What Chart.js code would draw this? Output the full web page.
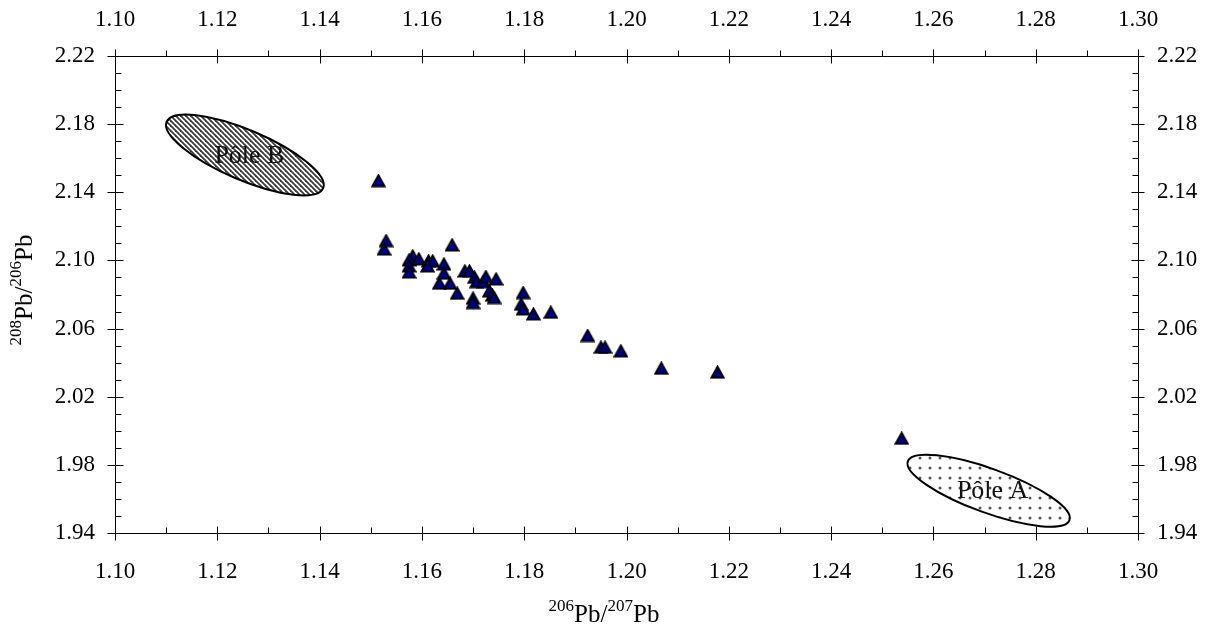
<!DOCTYPE html>
<html>
<head>
<meta charset="utf-8">
<script src="https://cdn.jsdelivr.net/npm/chart.js@4.4.1/dist/chart.umd.min.js"></script>
<style>
html,body{margin:0;padding:0;background:#fff;}
#c{display:block;}
</style>
</head>
<body>
<canvas id="c" width="1212" height="628"></canvas>
<script>
// 206Pb/207Pb values
const xValues = [1.1515,1.1530,1.1526,1.1659,1.1582,1.1575,1.1594,1.1575,1.1575,1.1613,
  1.1621,1.1611,1.1643,1.1643,1.1634,1.1655,1.1669,1.1684,1.1693,1.1703,
  1.1707,1.1720,1.1725,1.1745,1.1732,1.1738,1.1741,1.1700,1.1700,1.1798,
  1.1794,1.1798,1.1818,1.1852,1.1924,1.1950,1.1958,1.1989,1.2068,1.2178,1.2538];
// 208Pb/206Pb values
const yValues = [2.1468,2.1116,2.1067,2.1091,2.1026,2.1003,2.1009,2.0968,2.0932,2.0997,
  2.0997,2.0968,2.0979,2.0925,2.0866,2.0866,2.0807,2.0938,2.0938,2.0901,
  2.0875,2.0875,2.0905,2.0891,2.0821,2.0797,2.0782,2.0778,2.0752,2.0811,
  2.0743,2.0715,2.0686,2.0696,2.0559,2.0490,2.0490,2.0469,2.0367,2.0344,1.9956];

const xTickLabels = ['1.10','1.12','1.14','1.16','1.18','1.20','1.22','1.24','1.26','1.28','1.30'];
const yTickLabels = ['1.94','1.98','2.02','2.06','2.10','2.14','2.18','2.22'];

// End-member fields
const poleNames = ['Pôle B','Pôle A'];
const poleCenterX = [1.1254, 1.2708];
const poleCenterY = [2.1619, 1.9648];

const FONT = '"Liberation Serif", "Times New Roman", serif';

// marker image: triangle centred on its bounding box
const tri = document.createElement('canvas');
tri.width = 15; tri.height = 14;
(function(){
  const g = tri.getContext('2d');
  g.beginPath();
  g.moveTo(7.5, 1.2); g.lineTo(13.8, 12.6); g.lineTo(1.2, 12.6); g.closePath();
  g.fillStyle = '#000080'; g.fill();
  g.lineWidth = 1.6; g.strokeStyle = '#000'; g.lineJoin = 'miter'; g.stroke();
})();

function stripePattern(ctx){
  const t = document.createElement('canvas');
  t.width = 5; t.height = 5;
  const g = t.getContext('2d');
  g.fillStyle = '#fff'; g.fillRect(0,0,5,5);
  g.strokeStyle = '#3a3a3a'; g.lineWidth = 1.8;
  for (let k=-5;k<=5;k+=5){ g.beginPath(); g.moveTo(k-1,-1); g.lineTo(k+6,6); g.stroke(); }
  return ctx.createPattern(t,'repeat');
}
function dotPattern(ctx){
  const t = document.createElement('canvas');
  t.width = 10; t.height = 10;
  const g = t.getContext('2d');
  g.fillStyle = '#fff'; g.fillRect(0,0,10,10);
  g.fillStyle = '#555';
  g.beginPath(); g.arc(5,5,1.5,0,Math.PI*2); g.fill();
  const p = ctx.createPattern(t,'repeat');
  try { p.setTransform(new DOMMatrix().translate(5,3)); } catch(e){}
  return p;
}

const ellipseStyle = [
  {rx: 85, ry: 25, rot: 23*Math.PI/180, fill: 'stripe', lx: 4.5, ly: 1},
  {rx: 86, ry: 22, rot: 20*Math.PI/180, fill: 'dot', lx: 4, ly: 0}
];

const decorPlugin = {
  id: 'decor',
  beforeDatasetsDraw(chart){
    const ctx = chart.ctx;
    const xs = chart.scales.x, ys = chart.scales.y;
    for (let i=0;i<poleNames.length;i++){
      const st = ellipseStyle[i];
      const cx = xs.getPixelForValue(poleCenterX[i]);
      const cy = ys.getPixelForValue(poleCenterY[i]);
      ctx.save();
      ctx.beginPath();
      ctx.ellipse(cx, cy, st.rx, st.ry, st.rot, 0, Math.PI*2);
      ctx.fillStyle = st.fill === 'stripe' ? stripePattern(ctx) : dotPattern(ctx);
      ctx.fill();
      ctx.lineWidth = 2; ctx.strokeStyle = '#000'; ctx.stroke();
      ctx.fillStyle = '#111';
      ctx.font = '26px ' + FONT;
      ctx.textAlign = 'center'; ctx.textBaseline = 'middle';
      ctx.fillText(poleNames[i], cx + st.lx, cy + st.ly);
      ctx.restore();
    }
  },
  afterDraw(chart){
    const ctx = chart.ctx;
    const a = chart.chartArea;
    const xs = chart.scales.x, ys = chart.scales.y;
    const L = Math.round(a.left)+0.5, R = Math.round(a.right)+0.5;
    const T = Math.round(a.top)+0.5, B = Math.round(a.bottom)+0.5;
    ctx.save();
    ctx.strokeStyle = '#000'; ctx.lineWidth = 1;
    ctx.beginPath();
    ctx.rect(L, T, R-L, B-T);
    // x ticks (every 0.01, major every 0.02)
    for (let k=0;k<=20;k++){
      const v = 1.10 + k*0.01;
      const px = Math.round(xs.getPixelForValue(v))+0.5;
      if (k%2===0){
        ctx.moveTo(px, B-7); ctx.lineTo(px, B+7);
        ctx.moveTo(px, T-7); ctx.lineTo(px, T+7);
      } else {
        ctx.moveTo(px, B-6); ctx.lineTo(px, B);
        ctx.moveTo(px, T-6); ctx.lineTo(px, T);
      }
    }
    // y ticks (every 0.01, major every 0.04)
    for (let k=0;k<=28;k++){
      const v = 1.94 + k*0.01;
      const py = Math.round(ys.getPixelForValue(v))+0.5;
      if (k%4===0){
        ctx.moveTo(L-8, py); ctx.lineTo(L+8, py);
        ctx.moveTo(R-7, py); ctx.lineTo(R+6, py);
      } else {
        ctx.moveTo(L, py); ctx.lineTo(L+6, py);
        ctx.moveTo(R-6, py); ctx.lineTo(R, py);
      }
    }
    ctx.stroke();

    // axis titles with superscripts
    function drawIso(parts, x, y){
      let w = 0;
      for (const [t,s] of parts){ ctx.font = (s?'17px ':'25px ')+FONT; w += ctx.measureText(t).width; }
      let cx = x - w/2;
      ctx.textAlign = 'left'; ctx.textBaseline = 'alphabetic';
      for (const [t,s] of parts){
        ctx.font = (s?'17px ':'25px ')+FONT;
        ctx.fillText(t, cx, s ? y-11 : y);
        cx += ctx.measureText(t).width;
      }
    }
    ctx.fillStyle = '#000';
    drawIso([['206',1],['Pb/',0],['207',1],['Pb',0]], 604, 622);
    ctx.save();
    ctx.translate(32, 290);
    ctx.rotate(-Math.PI/2);
    drawIso([['208',1],['Pb/',0],['206',1],['Pb',0]], 0, 0);
    ctx.restore();
    ctx.restore();
  }
};

function tickCfg(labels, step, pad){
  return {
    stepSize: step,
    autoSkip: false,
    maxRotation: 0,
    padding: pad,
    color: '#000',
    font: {family: FONT, size: 23},
    callback: (v) => {
      const s = Number(v).toFixed(2);
      return labels.includes(s) ? s : '';
    }
  };
}
const noGrid = {display: false, drawTicks: false, drawOnChartArea: false};

new Chart(document.getElementById('c'), {
  type: 'scatter',
  data: {
    datasets: [{
      data: xValues.map((x,i)=>({x, y: yValues[i]})),
      pointStyle: tri,
      pointRadius: 7,
      pointHoverRadius: 7,
      xAxisID: 'x', yAxisID: 'y'
    }]
  },
  options: {
    responsive: false,
    animation: false,
    events: [],
    layout: {padding: 0},
    plugins: {legend: {display: false}, tooltip: {enabled: false}},
    scales: {
      x: {type: 'linear', position: 'bottom', min: 1.10, max: 1.30,
          ticks: tickCfg(xTickLabels, 0.02, 25), grid: noGrid, border: {display: false},
          afterFit: s => { s.height = 95; }},
      x2: {type: 'linear', position: 'top', min: 1.10, max: 1.30,
          ticks: tickCfg(xTickLabels, 0.02, 22), grid: noGrid, border: {display: false},
          afterFit: s => { s.height = 56; }},
      y: {type: 'linear', position: 'left', min: 1.94, max: 2.22,
          ticks: tickCfg(yTickLabels, 0.04, 20), grid: noGrid, border: {display: false},
          afterFit: s => { s.width = 115; }},
      y2: {type: 'linear', position: 'right', min: 1.94, max: 2.22,
          ticks: tickCfg(yTickLabels, 0.04, 19), grid: noGrid, border: {display: false},
          afterFit: s => { s.width = 74; }}
    }
  },
  plugins: [decorPlugin]
});
</script>
</body>
</html>
